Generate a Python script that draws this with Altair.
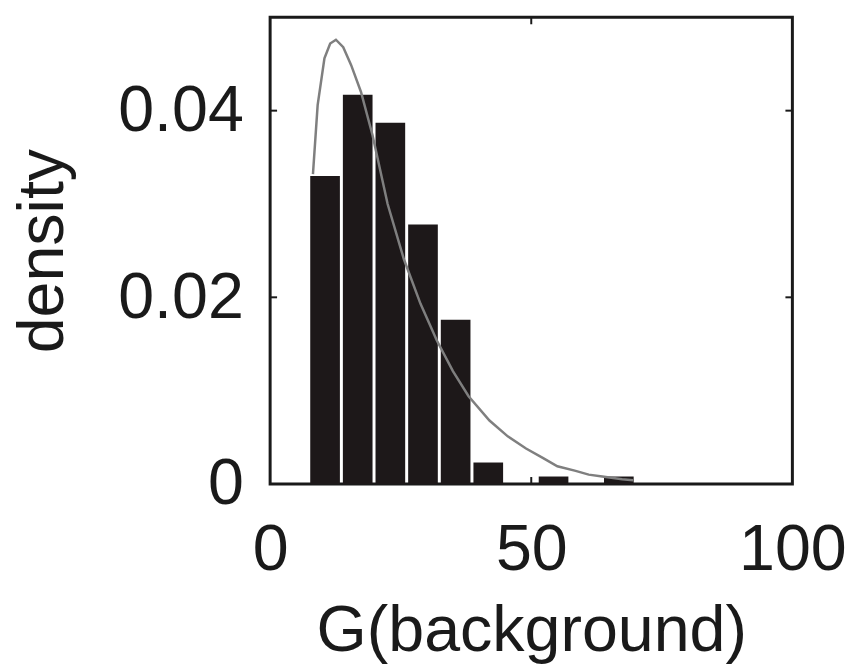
import altair as alt
import pandas as pd

# Histogram bins (G(background)) and density heights
bin_start = [7.3, 13.55, 19.8, 26.05, 32.3, 38.55, 44.8, 51.05, 57.3, 63.55]
bin_end = [13.55, 19.8, 26.05, 32.3, 38.55, 44.8, 51.05, 57.3, 63.55, 69.8]
bin_density = [0.0330, 0.0417, 0.0387, 0.0278, 0.0176, 0.0023, 0.0, 0.0008, 0.0, 0.0008]

# Fitted density curve
curve_x = [8.2, 9.1, 10.4, 11.5, 12.6, 14.0, 15.5, 17.4, 19.6, 22.5, 25.6, 28.8,
           31.9, 35.0, 38.0, 42.0, 45.5, 49.0, 52.2, 55.0, 58.5, 61.0, 63.6, 67.4, 69.5]
curve_y = [0.0332, 0.0406, 0.0456, 0.0472, 0.0476, 0.0468, 0.0449, 0.0420, 0.0374,
           0.0300, 0.0241, 0.0193, 0.0154, 0.0121, 0.0094, 0.0068, 0.0051, 0.0038,
           0.0028, 0.0019, 0.0014, 0.0010, 0.0008, 0.0005, 0.0004]

x_ticks = [0, 50, 100]
y_ticks = [0, 0.02, 0.04]
x_inner_ticks = [50]
y_inner_ticks = [0.02, 0.04]

W, H = 526, 470
FONT = "Liberation Sans"
FS = 65

bars_df = pd.DataFrame({"start": bin_start, "end": bin_end, "density": bin_density})
curve_df = pd.DataFrame({"g": curve_x, "density": curve_y})
xt_df = pd.DataFrame({"g": x_inner_ticks})
yt_df = pd.DataFrame({"density": y_inner_ticks})

xscale = alt.Scale(domain=[0, 100], nice=False, zero=False)
yscale = alt.Scale(domain=[0, 0.05], nice=False)

xaxis = alt.Axis(values=x_ticks, format="d", title="G(background)", ticks=False,
                 domain=False, grid=False, labelFont=FONT, labelFontSize=FS,
                 labelColor="#1a1a1a", labelPadding=35, titleFont=FONT,
                 titleFontSize=FS, titleFontWeight="normal", titleColor="#1a1a1a",
                 titlePadding=18, labelFlush=False, labelOverlap=False)
yaxis = alt.Axis(values=y_ticks, title="density", ticks=False, domain=False, grid=False,
                 labelFont=FONT, labelFontSize=FS, labelColor="#1a1a1a",
                 labelPadding=27, titleFont=FONT, titleFontSize=FS,
                 titleFontWeight="normal", titleColor="#1a1a1a", titlePadding=42,
                 labelExpr="datum.value == 0 ? '0' : format(datum.value, '.2f')",
                 labelFlush=False, labelOverlap=False)

bars = alt.Chart(bars_df).mark_bar(color="#1d1819", binSpacing=3).encode(
    x=alt.X("start:Q", bin="binned", scale=xscale, axis=xaxis),
    x2="end:Q",
    y=alt.Y("density:Q", scale=yscale, axis=yaxis),
)

curve = alt.Chart(curve_df).mark_line(color="#7f7f7f", strokeWidth=2.5).encode(
    x=alt.X("g:Q", scale=xscale),
    y=alt.Y("density:Q", scale=yscale),
)

tick_style = dict(color="#1a1a1a", strokeWidth=2)
yt_left = alt.Chart(yt_df).mark_rule(**tick_style).encode(
    y=alt.Y("density:Q", scale=yscale), x=alt.value(0), x2=alt.value(7))
yt_right = alt.Chart(yt_df).mark_rule(**tick_style).encode(
    y=alt.Y("density:Q", scale=yscale), x=alt.value(W - 7), x2=alt.value(W))
xt_bottom = alt.Chart(xt_df).mark_rule(**tick_style).encode(
    x=alt.X("g:Q", scale=xscale), y=alt.value(H - 7), y2=alt.value(H))
xt_top = alt.Chart(xt_df).mark_rule(**tick_style).encode(
    x=alt.X("g:Q", scale=xscale), y=alt.value(0), y2=alt.value(7))

chart = alt.layer(bars, curve, yt_left, yt_right, xt_bottom, xt_top).properties(
    width=W, height=H,
    background="white",
    autosize=alt.AutoSizeParams(type="none"),
    padding={"left": 264, "top": 7, "right": 54, "bottom": 190},
).configure_view(stroke="#1a1a1a", strokeWidth=3)

chart.save("out.html", embed_options={"renderer": "svg", "actions": False})
